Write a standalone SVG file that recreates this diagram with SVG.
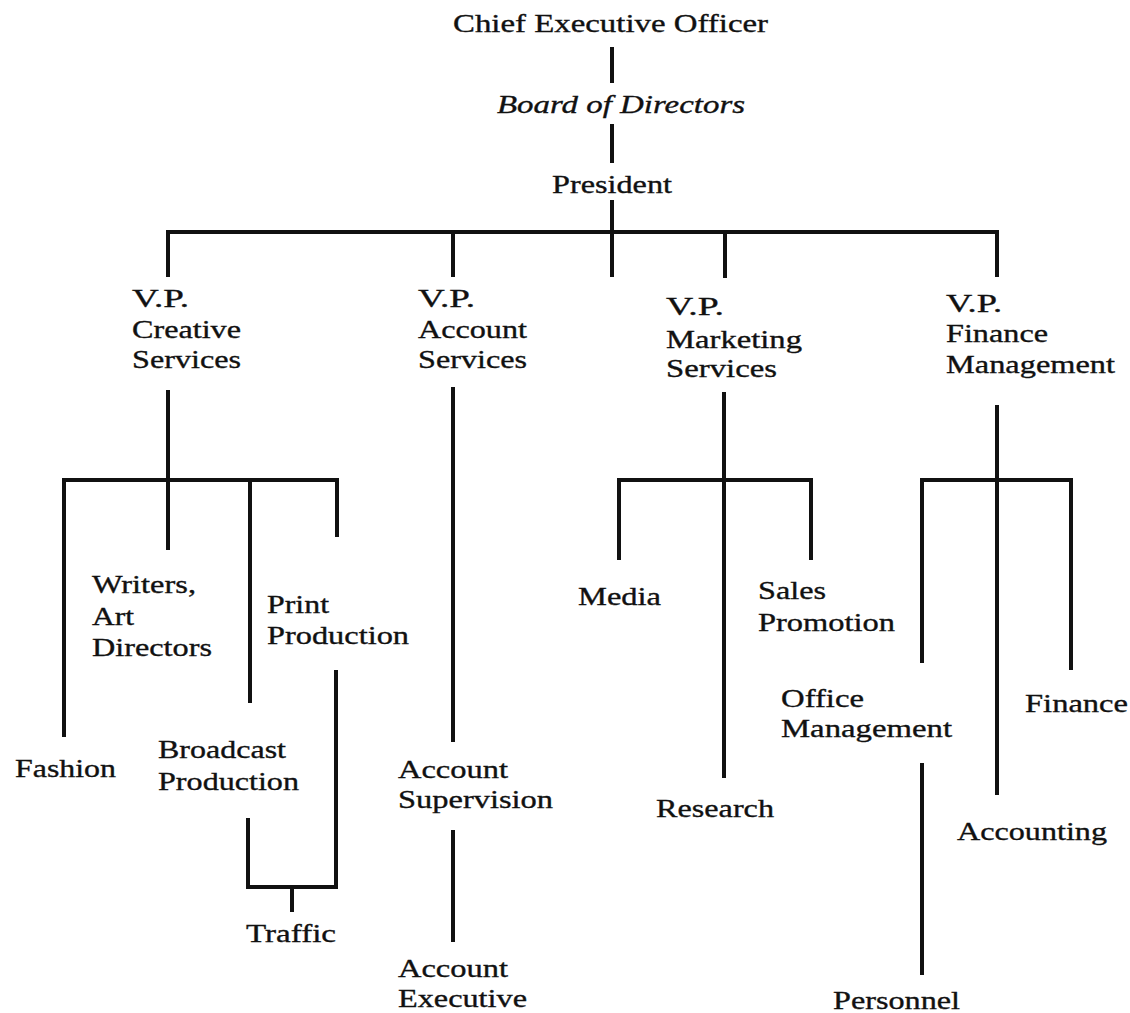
<svg xmlns="http://www.w3.org/2000/svg" width="1130" height="1013" viewBox="0 0 1130 1013">
<style>
text{font-family:'Liberation Serif','Times New Roman',Times,serif;font-size:26px;fill:#111;stroke:#111;stroke-width:0.35px}
.i{font-style:italic}
.c{stroke:#111;stroke-width:4;fill:none;stroke-linecap:butt;stroke-linejoin:miter}
</style>
<rect width="1130" height="1013" fill="#fff"/>
<g id="connectors" class="c">
<path d="M612 47V83M612 124V163M612 200V277"/>
<path d="M168 277V232H997V277M453 232V277M725 232V278"/>
<path d="M168 390V480M64 737V480H337V537M168 480V550M250 480V703"/>
<path d="M336 670V887H248V818M292 887V912"/>
<path d="M453 387V742M453 830V942"/>
<path d="M724 392V778M619 560V480H811V560"/>
<path d="M997 405V795M922 663V480H1071V670M922 763V975"/>
</g>
<g id="ceo"><text x="453" y="32" font-size="27" textLength="315" lengthAdjust="spacingAndGlyphs">Chief Executive Officer</text></g>
<g id="board"><text class="i" x="497" y="113" textLength="248" lengthAdjust="spacingAndGlyphs">Board of Directors</text></g>
<g id="president"><text x="552" y="193" textLength="120" lengthAdjust="spacingAndGlyphs">President</text></g>
<g id="vp-creative">
<text x="132" y="307" textLength="57" lengthAdjust="spacingAndGlyphs">V.P.</text>
<text x="132" y="338" textLength="109" lengthAdjust="spacingAndGlyphs">Creative</text>
<text x="132" y="368" textLength="109" lengthAdjust="spacingAndGlyphs">Services</text>
</g>
<g id="vp-account">
<text x="418" y="307" textLength="57" lengthAdjust="spacingAndGlyphs">V.P.</text>
<text x="418" y="338" textLength="109" lengthAdjust="spacingAndGlyphs">Account</text>
<text x="418" y="368" textLength="109" lengthAdjust="spacingAndGlyphs">Services</text>
</g>
<g id="vp-marketing">
<text x="666" y="315" textLength="58" lengthAdjust="spacingAndGlyphs">V.P.</text>
<text x="666" y="348" textLength="136" lengthAdjust="spacingAndGlyphs">Marketing</text>
<text x="666" y="377" textLength="111" lengthAdjust="spacingAndGlyphs">Services</text>
</g>
<g id="vp-finance">
<text x="946" y="312" textLength="56" lengthAdjust="spacingAndGlyphs">V.P.</text>
<text x="946" y="342" textLength="102" lengthAdjust="spacingAndGlyphs">Finance</text>
<text x="946" y="373" textLength="169" lengthAdjust="spacingAndGlyphs">Management</text>
</g>
<g id="fashion"><text x="15" y="777" textLength="101" lengthAdjust="spacingAndGlyphs">Fashion</text></g>
<g id="writers">
<text x="92" y="593" textLength="104" lengthAdjust="spacingAndGlyphs">Writers,</text>
<text x="92" y="625" textLength="42" lengthAdjust="spacingAndGlyphs">Art</text>
<text x="92" y="656" textLength="120" lengthAdjust="spacingAndGlyphs">Directors</text>
</g>
<g id="print-production">
<text x="267" y="613" textLength="62" lengthAdjust="spacingAndGlyphs">Print</text>
<text x="267" y="644" textLength="142" lengthAdjust="spacingAndGlyphs">Production</text>
</g>
<g id="broadcast-production">
<text x="158" y="758" textLength="128" lengthAdjust="spacingAndGlyphs">Broadcast</text>
<text x="158" y="790" textLength="141" lengthAdjust="spacingAndGlyphs">Production</text>
</g>
<g id="traffic"><text x="246" y="942" textLength="90" lengthAdjust="spacingAndGlyphs">Traffic</text></g>
<g id="account-supervision">
<text x="398" y="778" textLength="110" lengthAdjust="spacingAndGlyphs">Account</text>
<text x="398" y="808" textLength="155" lengthAdjust="spacingAndGlyphs">Supervision</text>
</g>
<g id="account-executive">
<text x="398" y="977" textLength="110" lengthAdjust="spacingAndGlyphs">Account</text>
<text x="398" y="1007" textLength="129" lengthAdjust="spacingAndGlyphs">Executive</text>
</g>
<g id="media"><text x="578" y="605" textLength="83" lengthAdjust="spacingAndGlyphs">Media</text></g>
<g id="sales-promotion">
<text x="758" y="599" textLength="68" lengthAdjust="spacingAndGlyphs">Sales</text>
<text x="758" y="631" textLength="137" lengthAdjust="spacingAndGlyphs">Promotion</text>
</g>
<g id="research"><text x="656" y="817" textLength="118" lengthAdjust="spacingAndGlyphs">Research</text></g>
<g id="office-management">
<text x="781" y="707" textLength="83" lengthAdjust="spacingAndGlyphs">Office</text>
<text x="781" y="737" textLength="171" lengthAdjust="spacingAndGlyphs">Management</text>
</g>
<g id="finance"><text x="1025" y="712" textLength="103" lengthAdjust="spacingAndGlyphs">Finance</text></g>
<g id="accounting"><text x="957" y="840" textLength="150" lengthAdjust="spacingAndGlyphs">Accounting</text></g>
<g id="personnel"><text x="833" y="1009" textLength="127" lengthAdjust="spacingAndGlyphs">Personnel</text></g>
</svg>
